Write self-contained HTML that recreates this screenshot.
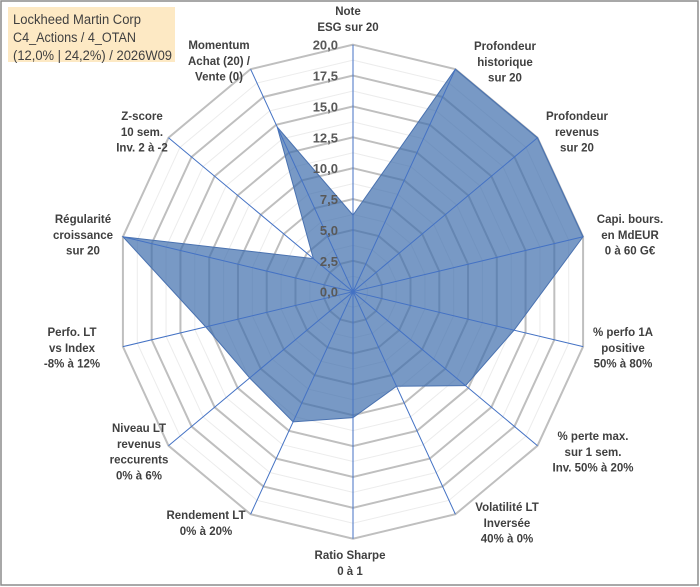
<!DOCTYPE html>
<html><head><meta charset="utf-8"><style>
html,body{margin:0;padding:0;background:#fff;}
svg{display:block;font-family:"Liberation Sans",Arial,sans-serif;}
.lab{font-size:11.5px;font-weight:bold;fill:#404040;}
.tick{font-size:13px;font-weight:bold;fill:#595959;}
</style></head><body>
<svg id="chart" width="700" height="587" viewBox="0 0 700 587" xmlns="http://www.w3.org/2000/svg">
<rect x="1" y="1" width="697" height="584" fill="#fff" stroke="#8c8c8c" stroke-width="1.5"/>
<rect x="8" y="7" width="167" height="55" fill="#fde9c4"/>
<text x="13" y="24" font-size="13.5" fill="#404040" textLength="128" lengthAdjust="spacingAndGlyphs">Lockheed Martin Corp</text>
<text x="13" y="42" font-size="13.5" fill="#404040" textLength="123" lengthAdjust="spacingAndGlyphs">C4_Actions / 4_OTAN</text>
<text x="13" y="60" font-size="13.5" fill="#404040" textLength="159" lengthAdjust="spacingAndGlyphs">(12,0% | 24,2%) / 2026W09</text>
<g id="grid"></g><g id="series"></g><g id="axes"></g><g id="ticks"></g><g id="labels"></g>
</svg>
<script>
const categories = [
 ["Note","ESG sur 20"],
 ["Profondeur","historique","sur 20"],
 ["Profondeur","revenus","sur 20"],
 ["Capi. bours.","en MdEUR","0 à 60 G€"],
 ["% perfo 1A","positive","50% à 80%"],
 ["% perte max.","sur 1 sem.","Inv. 50% à 20%"],
 ["Volatilité LT","Inversée","40% à 0%"],
 ["Ratio Sharpe","0 à 1"],
 ["Rendement LT","0% à 20%"],
 ["Niveau LT","revenus","reccurents","0% à 6%"],
 ["Perfo. LT","vs Index","-8% à 12%"],
 ["Régularité","croissance","sur 20"],
 ["Z-score","10 sem.","Inv. 2 à -2"],
 ["Momentum","Achat (20) /","Vente (0)"]
];
const values = [6.2, 20, 20, 20, 14, 12.2, 8.5, 10.2, 11.7, 11.2, 12.8, 20, 4.3, 14.8];
const tickLabels = ["0,0","2,5","5,0","7,5","10,0","12,5","15,0","17,5","20,0"];
const tickValues = [0,2.5,5,7.5,10,12.5,15,17.5,20];
const labelPos = [[348,11],[505,46],[577,116],[630,219],[623,332],[593,436],[507,507],[350,555],[206,515],[139,428],[72,332],[83,219],[142,116],[219,45]];

const NS="http://www.w3.org/2000/svg";
const cx=353, cy=291.7, rx=236, ry=247, vmax=20, n=categories.length;
function pt(i,v){const a=2*Math.PI*i/n;return [cx+rx*(v/vmax)*Math.sin(a), cy-ry*(v/vmax)*Math.cos(a)];}
function mk(tag,attrs,parent){const e=document.createElementNS(NS,tag);for(const k in attrs)e.setAttribute(k,attrs[k]);parent.appendChild(e);return e;}
const grid=document.getElementById('grid');
for(let k=1;k<=16;k++){
  const v=k*1.25, major=k%2===0;
  const p=[];for(let i=0;i<n;i++)p.push(pt(i,v).join(','));
  const e=mk('polygon',{points:p.join(' '),fill:'none',stroke:major?'#bfbfbf':'#ececec','stroke-width':major?2:1},grid);
  
  
}
const ser=document.getElementById('series');
const sp=values.map((v,i)=>pt(i,v).join(','));
const poly=mk('polygon',{points:sp.join(' '),fill:'rgb(62,110,172)','fill-opacity':'0.7',stroke:'#4a72b0','stroke-width':1},ser);


const ax=document.getElementById('axes');
for(let i=0;i<n;i++){
  const [x,y]=pt(i,vmax);
  const l=mk('line',{x1:cx,y1:cy,x2:x,y2:y,stroke:'#4472c4','stroke-width':1},ax);
  
  
}
const tk=document.getElementById('ticks');
tickValues.forEach((v,i)=>{
  const [x,y]=pt(0,v);
  const t=mk('text',{x:338,y:y+5,'text-anchor':'end',class:'tick'},tk);
  t.textContent=tickLabels[i];
  
  
});
const lb=document.getElementById('labels');
categories.forEach((lines,i)=>{
  const [x,y]=labelPos[i];
  const t=mk('text',{x:x,y:y+4,'text-anchor':'middle',class:'lab'},lb);
  
  
  lines.forEach((s,j)=>{const ts=mk('tspan',{x:x,dy:j===0?0:15.8},t);ts.textContent=s;});
});
</script>
</body></html>
